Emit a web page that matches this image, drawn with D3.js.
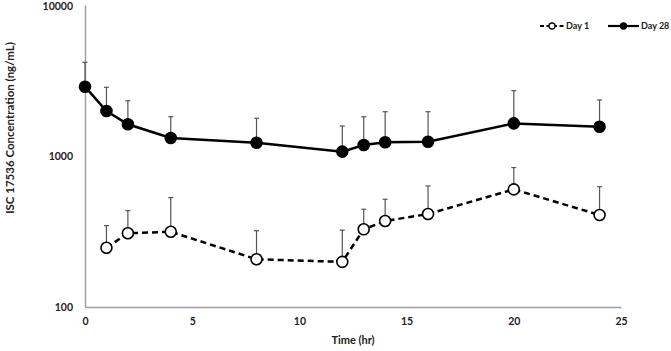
<!DOCTYPE html>
<html>
<head>
<meta charset="utf-8">
<script src="https://cdn.jsdelivr.net/npm/d3@7"></script>
<style>
  body { margin: 0; background: #fff; }
  text { font-family: Lato, "Open Sans", sans-serif; font-weight: bold; fill: #222; }
</style>
</head>
<body>
<svg id="chart"></svg>
<script>
var svgWidth = 671;
var svgHeight = 351;

var timePoints = [0, 1, 2, 4, 8, 12, 13, 14, 16, 20, 24];
var day1Mean  = [null, 247, 308, 315, 207, 199, 327, 371, 413, 601, 407];
var day1Upper = [null, 346, 435, 530, 320, 323, 444, 517, 633, 838, 626];
var day28Mean  = [2877, 1986, 1622, 1315, 1224, 1069, 1183, 1233, 1244, 1644, 1563];
var day28Upper = [4170, 2851, 2323, 1820, 1778, 1580, 1820, 1965, 1965, 2709, 2350];
var xTicks = [0, 5, 10, 15, 20, 25];
var yTicks = [100, 1000, 10000];

var xScale = d3.scaleLinear().domain([0, 25]).range([85, 621]);
var yScale = d3.scaleLog().domain([100, 10000]).range([307, 5]);

var svg = d3.select("#chart")
          .attr("width", svgWidth)
          .attr("height", svgHeight);

// axes
var xAxis = svg.append("g")
     .attr("transform", "translate(0," + yScale(100) + ")")
     .call(d3.axisBottom(xScale).tickValues(xTicks).tickSize(0).tickPadding(11));
var yAxis = svg.append("g")
     .attr("transform", "translate(" + xScale(0) + ",0)")
     .call(d3.axisLeft(yScale).tickValues(yTicks).tickFormat(d3.format("d")).tickSize(0).tickPadding(12));
[xAxis, yAxis].forEach(function(a) {
     a.select(".domain").attr("stroke", "#a0a0a0").attr("stroke-width", 1.5);
     a.selectAll("text").style("font-size", "10.5px").attr("fill", "#222");
});
// keep the top label inside the picture
yAxis.selectAll(".tick text").filter(function(d) { return d === 10000; }).attr("dy", "0.45em");

svg.append("text")
     .attr("x", xScale(12.5))
     .attr("y", 344)
     .attr("text-anchor", "middle")
     .style("font-size", "11px")
     .text("Time (hr)");

svg.append("text")
     .attr("transform", "translate(14," + 128 + ") rotate(-90)")
     .attr("text-anchor", "middle")
     .style("font-size", "11.5px")
     .text("ISC 17536 Concentration (ng/mL)");

function toRows(mean, upper) {
     return timePoints.map(function(t, i) { return { t: t, v: mean[i], u: upper[i] }; })
                      .filter(function(d) { return d.v != null; });
}
var day1 = toRows(day1Mean, day1Upper);
var day28 = toRows(day28Mean, day28Upper);

var line = d3.line()
     .x(function(d) { return xScale(d.t); })
     .y(function(d) { return yScale(d.v); });

function drawSeries(rows, dashed, filled) {
     var g = svg.append("g");
     // error bars (upper only)
     g.selectAll(".err").data(rows).enter().append("line")
          .attr("x1", function(d) { return xScale(d.t); })
          .attr("x2", function(d) { return xScale(d.t); })
          .attr("y1", function(d) { return yScale(d.v); })
          .attr("y2", function(d) { return yScale(d.u); })
          .attr("stroke", "#555").attr("stroke-width", 1.2);
     g.selectAll(".cap").data(rows).enter().append("line")
          .attr("x1", function(d) { return xScale(d.t) - 2.5; })
          .attr("x2", function(d) { return xScale(d.t) + 2.5; })
          .attr("y1", function(d) { return yScale(d.u); })
          .attr("y2", function(d) { return yScale(d.u); })
          .attr("stroke", "#555").attr("stroke-width", 1.2);
     g.append("path")
          .datum(rows)
          .attr("d", line)
          .attr("fill", "none")
          .attr("stroke", "#000")
          .attr("stroke-width", 2.5)
          .attr("stroke-dasharray", dashed ? "6,4" : null);
     g.selectAll("circle").data(rows).enter().append("circle")
          .attr("cx", function(d) { return xScale(d.t); })
          .attr("cy", function(d) { return yScale(d.v); })
          .attr("r", 5.5)
          .attr("fill", filled ? "#000" : "#fff")
          .attr("stroke", "#000")
          .attr("stroke-width", 1.6);
}
drawSeries(day1, true, false);
drawSeries(day28, false, true);

// legend
var legendData = [
     { name: "Day 1", x: 540, w: 24, dashed: true, filled: false },
     { name: "Day 28", x: 608, w: 31, dashed: false, filled: true }
];
var legend = svg.append("g").attr("transform", "translate(0,26)");
var items = legend.selectAll("g").data(legendData).enter().append("g")
     .attr("transform", function(d) { return "translate(" + d.x + ",0)"; });
items.append("line")
     .attr("x1", 0).attr("x2", function(d) { return d.w; })
     .attr("stroke", "#000").attr("stroke-width", 2.2)
     .attr("stroke-dasharray", function(d) { return d.dashed ? "4,2.5" : null; });
items.append("circle")
     .attr("cx", function(d) { return d.w / 2; })
     .attr("r", 3)
     .attr("fill", function(d) { return d.filled ? "#000" : "#fff"; })
     .attr("stroke", "#000").attr("stroke-width", 1.3);
items.append("text")
     .attr("x", function(d) { return d.w + 2; })
     .attr("dy", "0.35em")
     .style("font-size", "9px")
     .text(function(d) { return d.name; });
</script>
</body>
</html>
